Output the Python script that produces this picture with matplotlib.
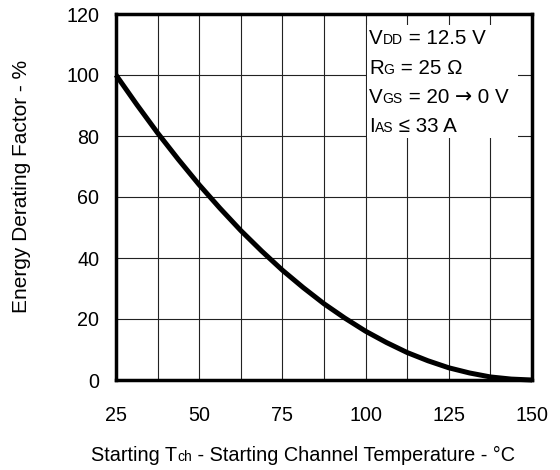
import matplotlib
matplotlib.use("Agg")
import matplotlib.pyplot as plt
from matplotlib.patches import Rectangle

plt.rcParams['font.family'] = ['Liberation Sans', 'DejaVu Sans']

# Data
temperature = [25, 31.25, 37.5, 43.75, 50, 56.25, 62.5, 68.75, 75, 81.25, 87.5,
               93.75, 100, 106.25, 112.5, 118.75, 125, 131.25, 137.5, 143.75, 150]
derating = [100, 90.3, 81, 72.3, 64, 56.3, 49, 42.3, 36, 30.3, 25,
            20.3, 16, 12.3, 9, 6.3, 4, 2.3, 1, 0.3, 0]
x_ticks = [25, 50, 75, 100, 125, 150]
y_ticks = [0, 20, 40, 60, 80, 100, 120]
x_grid = [25 + 12.5 * i for i in range(11)]

W, H = 560, 470
fig = plt.figure(figsize=(W / 100, H / 100), dpi=100)
ax = fig.add_axes([116 / W, 1 - 380 / H, (532 - 116) / W, (380 - 14) / H])

ax.set_xlim(25, 150)
ax.set_ylim(0, 120)
ax.set_xticks(x_ticks)
ax.set_yticks(y_ticks)
ax.set_xticks(x_grid, minor=True)
ax.tick_params(which='both', length=0)
ax.tick_params(axis='x', labelsize=14.2, pad=19)
ax.tick_params(axis='y', labelsize=14.2, pad=12)
ax.grid(which='both', axis='x', color='#222222', lw=0.8)
ax.grid(which='major', axis='y', color='#222222', lw=0.8)
ax.set_axisbelow(True)
for s in ax.spines.values():
    s.set_linewidth(2.5)
    s.set_zorder(5)

ax.plot(temperature, derating, color='black', lw=3.6, solid_capstyle='butt', zorder=4,
        clip_on=False)

# white box behind the conditions text
ax.add_patch(Rectangle((100.5, 79.4), 145.8 - 100.5, 116.4 - 79.4, facecolor='white',
                       edgecolor='none', zorder=1.5))

renderer = fig.canvas.get_renderer()


def rich(x, y, parts, ha='left'):
    """Draw text parts side by side on a common baseline; x,y in image pixels."""
    parts = [p if len(p) == 3 else (p[0], p[1], None) for p in parts]
    widths = []
    for s, size, fam in parts:
        kw = {'family': fam} if fam else {}
        t = fig.text(0, 0, s, fontsize=size, **kw)
        widths.append(t.get_window_extent(renderer).width)
        t.remove()
    total = sum(widths)
    cur = x - total / 2 if ha == 'center' else x
    for (s, size, fam), w in zip(parts, widths):
        kw = {'family': fam} if fam else {}
        fig.text(cur / W, 1 - y / H, s, fontsize=size, va='baseline', ha='left',
                 zorder=6, **kw)
        cur += w


big, small = 14.8, 10
rich(369, 44, [('V', big), ('DD', small), (' = 12.5 V', big)])
rich(369, 73.5, [('R', big), ('G', small), (' = 25 \u03a9', big)])
rich(369, 103, [('V', big), ('GS', small), (' = 20 ', big),
                ('\u2192', big, 'DejaVu Sans'), (' 0 V', big)])
rich(369, 132, [('I', big), ('AS', small), (' \u2264 33 A', big)])

rich(303, 461, [('Starting T', 14.3), ('ch', 10),
                (' - Starting Channel Temperature - \u00b0C', 14.3)], ha='center')

fig.text(22 / W, 1 - 186.5 / H, 'Energy Derating Factor - %', rotation=90,
         fontsize=15, ha='center', va='center')

fig.savefig('out.png', dpi=100)
